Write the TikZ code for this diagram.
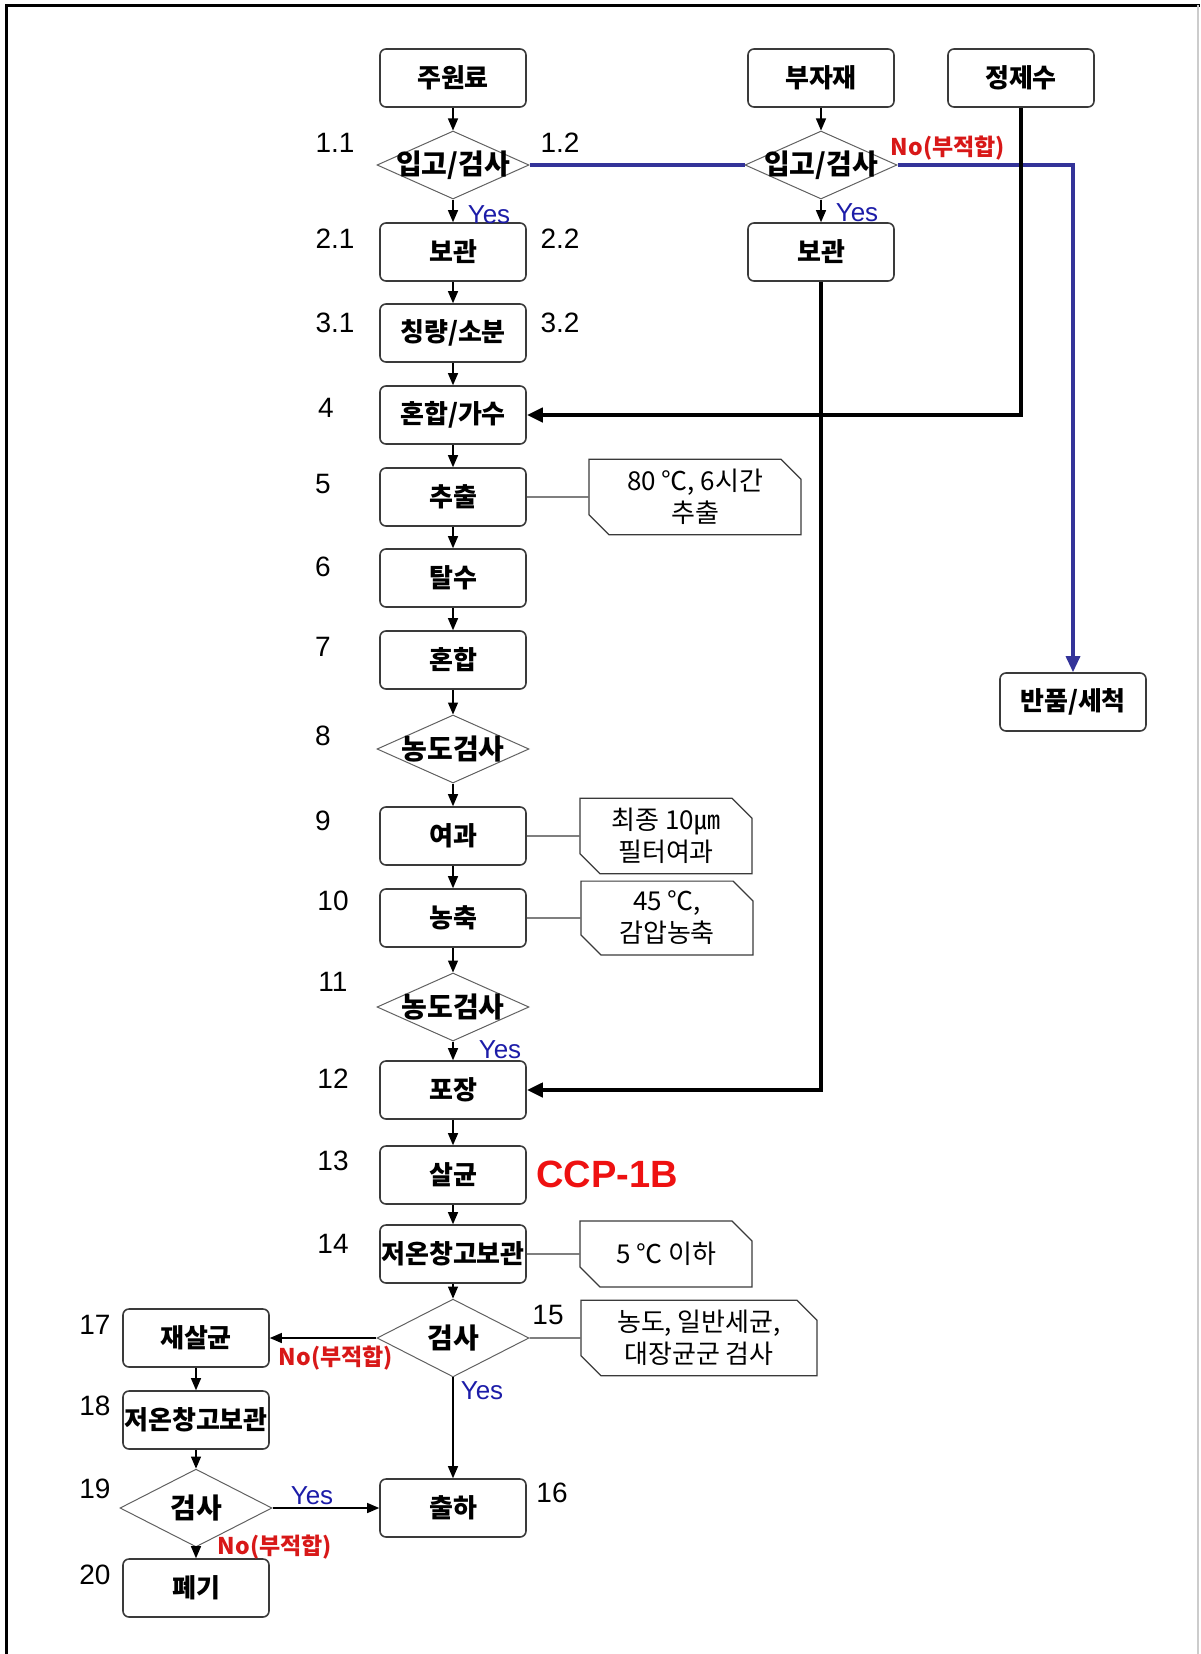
\documentclass[tikz,border=0pt]{standalone}
\usepackage{fontspec}
\setmainfont{Liberation Sans}
\newfontfamily\kr{Noto Sans CJK KR}
\usetikzlibrary{shapes.geometric,shapes.misc,arrows.meta}
\definecolor{flowGray}{HTML}{3A3A3A}
\definecolor{flowBlue}{HTML}{333399}
\definecolor{flowYes}{HTML}{1C1CA8}
\definecolor{flowRed}{HTML}{D81818}
\definecolor{ccpRed}{HTML}{EE1111}
\newcommand{\spill}[1]{\makebox[0pt]{#1}}

\begin{document}
\begin{tikzpicture}[x=0.5pt,y=-0.5pt,
  box/.style={draw=flowGray,line width=0.8pt,rounded corners=3pt,fill=white,
              minimum width=73pt,minimum height=29pt,inner sep=0pt,
              font=\kr\bfseries\fontsize{13}{15}\selectfont},
  dia/.style={diamond,draw=flowGray!80,line width=0.5pt,fill=white,
              minimum width=76pt,minimum height=34pt,inner sep=0pt,
              font=\kr\bfseries\fontsize{14}{16}\selectfont},
  note/.style={chamfered rectangle,chamfered rectangle corners={north east,south west},
              chamfered rectangle sep=5pt,draw=flowGray,line width=0.6pt,
              minimum width=86pt,minimum height=33pt,inner sep=0pt,align=center,
              font=\kr\fontsize{13}{16}\selectfont},
  num/.style={font=\fontsize{14}{16}\selectfont},
  yes/.style={font=\fontsize{13}{15}\selectfont,text=flowYes},
  no/.style={font=\kr\bfseries\fontsize{11.5}{14}\selectfont,text=flowRed},
  arr/.style={-{Triangle[length=6pt,width=5pt]},line width=0.6pt},
  barr/.style={-{Triangle[length=8pt,width=7pt]},flowBlue,line width=1.6pt},
  karr/.style={-{Triangle[length=8pt,width=7pt]},black,line width=2pt},
  tie/.style={flowGray,line width=0.6pt}]

%% frame
\useasboundingbox (0,0) rectangle (1200,1654);
\draw[line width=1.5pt] (6,1654) -- (6,5) -- (1200,5);
\draw[black!20,line width=0.6pt] (1198,5) -- (1198,1654);

%% incoming materials
\node[box] (raw)  at (453,78)  {주원료};
\node[box] (sub)  at (821,78)  {부자재};
\node[box] (aqua) at (1021,78) {정제수};
\node[dia] (chkA) at (453,165) {\spill{입고/검사}};
\node[dia] (chkB) at (821,165) {\spill{입고/검사}};
\node[box] (keepA) at (453,252) {보관};
\node[box] (keepB) at (821,252) {보관};
\node[box] (weigh) at (453,333) {칭량/소분};
\node[box] (ret)   at (1073,702) {반품/세척};

%% main line
\node[box] (mixw) at (453,415)  {혼합/가수};
\node[box] (ext)  at (453,497)  {추출};
\node[box] (dry)  at (453,578)  {탈수};
\node[box] (mix)  at (453,660)  {혼합};
\node[dia] (ck8)  at (453,749)  {\spill{농도검사}};
\node[box] (filt) at (453,836)  {여과};
\node[box] (cnc)  at (453,918)  {농축};
\node[dia] (ck11) at (453,1007) {\spill{농도검사}};
\node[box] (pack) at (453,1090) {포장};
\node[box] (ster) at (453,1175) {살균};
\node[box] (cold) at (453,1254) {\spill{저온창고보관}};
\node[dia] (ck15) at (453,1338) {검사};
\node[box] (ship) at (453,1508) {출하};

%% rework branch
\node[box] (rest)  at (196,1338) {재살균};
\node[box] (cold2) at (196,1420) {\spill{저온창고보관}};
\node[dia] (ck19)  at (196,1508) {검사};
\node[box] (disp)  at (196,1588) {폐기};

%% conditions
\node[note,minimum width=106pt] (nExt) at (695,497) {80 ℃, 6시간\\추출};
\node[note] (nFilt) at (666,836)  {최종 10㎛\\필터여과};
\node[note] (nCnc)  at (667,918)  {45 ℃,\\감압농축};
\node[note] (nCold) at (666,1254) {5 ℃ 이하};
\node[note,minimum width=118pt] (nCk) at (699,1338) {농도, 일반세균,\\대장균군 검사};

%% step numbers
\node[num] (l11) at (335,143) {1.1};  \node[num] (l12) at (560,143) {1.2};
\node[num] (l21) at (335,239) {2.1};  \node[num] (l22) at (560,239) {2.2};
\node[num] (l31) at (335,323) {3.1};  \node[num] (l32) at (560,323) {3.2};
\node[num] (l4)  at (326,408) {4};    \node[num] (l5)  at (323,484) {5};
\node[num] (l6)  at (323,567) {6};    \node[num] (l7)  at (323,647) {7};
\node[num] (l8)  at (323,736) {8};    \node[num] (l9)  at (323,821) {9};
\node[num] (l10) at (333,901) {10};   \node[num] (l11b) at (333,982) {11};
\node[num] (l12b) at (333,1079) {12}; \node[num] (l13) at (333,1161) {13};
\node[num] (l14) at (333,1244) {14};  \node[num] (l15) at (548,1315) {15};
\node[num] (l16) at (552,1493) {16};  \node[num] (l17) at (95,1325) {17};
\node[num] (l18) at (95,1406) {18};   \node[num] (l19) at (95,1489) {19};
\node[num] (l20) at (95,1575) {20};

%% flow
\draw[arr] (raw)--(chkA);    \draw[arr] (chkA)--(keepA);
\draw[arr] (keepA)--(weigh); \draw[arr] (weigh)--(mixw);
\draw[arr] (mixw)--(ext);    \draw[arr] (ext)--(dry);
\draw[arr] (dry)--(mix);     \draw[arr] (mix)--(ck8);
\draw[arr] (ck8)--(filt);    \draw[arr] (filt)--(cnc);
\draw[arr] (cnc)--(ck11);    \draw[arr] (ck11)--(pack);
\draw[arr] (pack)--(ster);   \draw[arr] (ster)--(cold);
\draw[arr] (cold)--(ck15);   \draw[arr] (ck15)--(ship);
\draw[arr] (ck15)--(rest);   \draw[arr] (rest)--(cold2);
\draw[arr] (cold2)--(ck19);  \draw[arr] (ck19)--(disp);
\draw[arr] (ck19)--(ship);
\draw[arr] (sub)--(chkB);    \draw[arr] (chkB)--(keepB);

%% feeds and rejects
\draw[flowBlue,line width=1.6pt] (chkA)--(chkB);
\draw[barr] (chkB.east) -| (ret.north);
\draw[karr] (aqua.south) |- (mixw.east);
\draw[karr] (keepB.south) |- (pack.east);

%% condition ties
\draw[tie] (ext)--(nExt);   \draw[tie] (filt)--(nFilt);
\draw[tie] (cnc)--(nCnc);   \draw[tie] (cold)--(nCold);
\draw[tie] (ck15)--(nCk);

%% branch labels
\node[yes] (yA)  at (489,215)  {Yes};
\node[yes] (yB)  at (857,213)  {Yes};
\node[no]  (nB)  at (948,148)  {No(부적합)};
\node[yes] (y11) at (500,1050) {Yes};
\node[no]  (n15) at (336,1358) {No(부적합)};
\node[yes] (y15) at (482,1391) {Yes};
\node[yes] (y19) at (312,1496) {Yes};
\node[no]  (n19) at (275,1547) {No(부적합)};
\node[font=\bfseries\fontsize{19}{21}\selectfont,text=ccpRed] (ccp) at (607,1174) {CCP-1B};
\end{tikzpicture}
\end{document}
